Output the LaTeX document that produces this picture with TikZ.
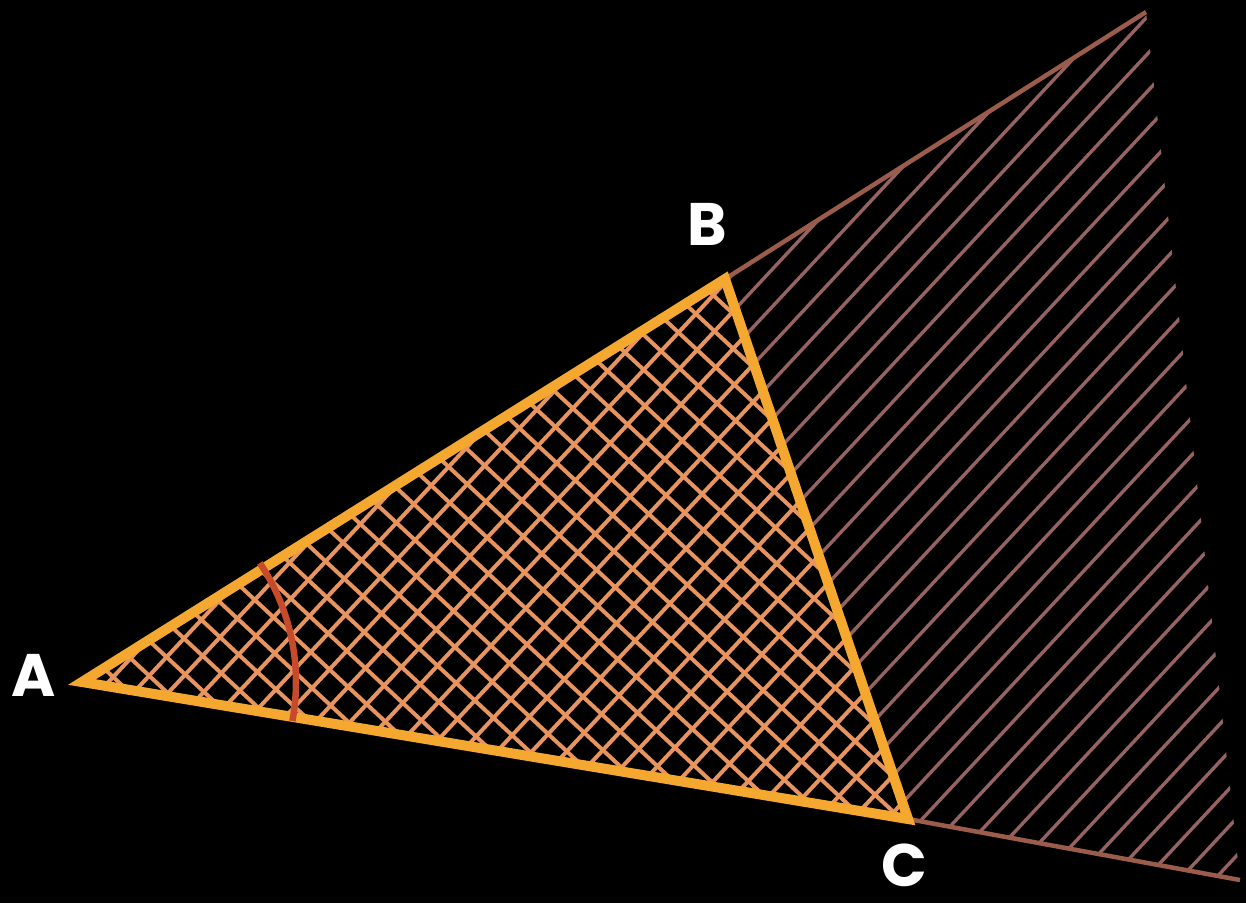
\documentclass[tikz,border=0pt]{standalone}
\usepackage{fontspec}
\newfontfamily\labfont{Poppins}
\definecolor{edgecol}{RGB}{244,168,48}
\definecolor{xhcol}{RGB}{232,148,95}
\definecolor{rhcol}{RGB}{150,98,98}
\definecolor{raycol}{RGB}{155,92,75}
\definecolor{arccol}{RGB}{198,75,42}
\tikzset{
  edgeline/.style={draw=edgecol, line width=10pt, line join=miter},
  xh/.style={draw=xhcol, line width=4pt},
  rh/.style={draw=rhcol, line width=3.4pt},
  rayline/.style={draw=raycol, line width=4.5pt},
  anglearc/.style={draw=arccol, line width=6.5pt},
  lab/.style={text=white, inner sep=0pt, font=\labfont\bfseries\fontsize{60}{60}\selectfont}
}
\begin{document}
\begin{tikzpicture}[x=1pt,y=1pt]
\fill[black] (0,0) rectangle (1246,-903);
\useasboundingbox (0,0) rectangle (1246,-903);
\coordinate (A) at (82,-682);
\coordinate (B) at (725,-279);
\coordinate (C) at (908,-819);
\coordinate (TB) at (1146,-12);
\coordinate (TC) at (1240,-880);
\coordinate (O) at (650,-550);

% hatching beyond BC
\begin{scope}
  \clip (B) -- (TB) -- (TC) -- (C) -- cycle;
  \begin{scope}[shift={(O)}, rotate=47]
    \foreach \k in {-45,...,45} \draw[rh] (-1300,\k*25.5) -- (1300,\k*25.5);
  \end{scope}
\end{scope}

% rays
\draw[rayline] (B) -- (TB);
\draw[rayline] (C) -- (TC);

% crosshatch inside triangle
\begin{scope}
  \clip (A) -- (B) -- (C) -- cycle;
  \begin{scope}[shift={(O)}, rotate=47]
    \foreach \k in {-45,...,45} \draw[xh] (-1300,\k*25.5) -- (1300,\k*25.5);
  \end{scope}
  \begin{scope}[shift={(O)}, rotate=-43]
    \foreach \k in {-45,...,45} \draw[xh] (-1300,\k*25.5) -- (1300,\k*25.5);
  \end{scope}
\end{scope}

% triangle
\draw[edgeline] (A) -- (B) -- (C) -- cycle;

% angle arc at A
\draw[anglearc] (A) ++(-10.5:214pt) arc[start angle=-10.5, end angle=33.8, radius=214pt];

% labels
\node[lab] (la) at (34,-675) {A};
\node[lab] (lb) at (707,-224) {B};
\node[lab] (lc) at (904,-865) {C};
\end{tikzpicture}
\end{document}
